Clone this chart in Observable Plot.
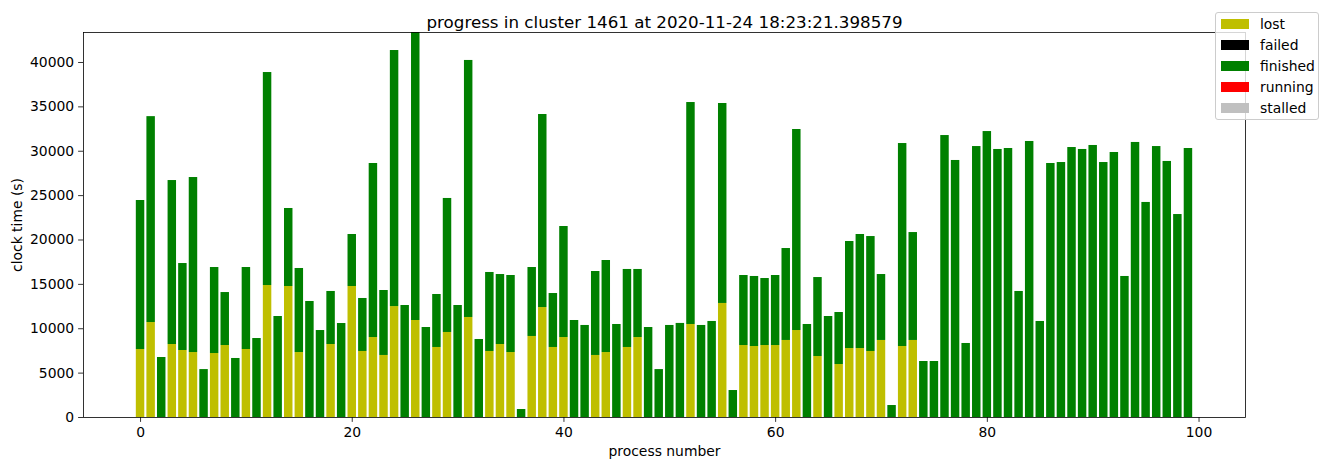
<!DOCTYPE html>
<html>
<head>
<meta charset="utf-8">
<script src="https://cdn.jsdelivr.net/npm/d3@7"></script>
<script src="https://cdn.jsdelivr.net/npm/@observablehq/plot@0.6"></script>
<style>
  body { margin: 0; background: #fff; font-family: "DejaVu Sans", sans-serif; }
  #wrap { position: relative; width: 1330px; height: 470px; }
  #legend { position: absolute; left: 1215px; top: 12px; width: 104px; height: 108px;
            border: 1px solid #cccccc; border-radius: 3px; background: rgba(255,255,255,0.8);
            box-sizing: border-box; }
  .row { position: absolute; left: 0; height: 14px; }
  .sw { position: absolute; left: 5px; width: 28px; height: 10px; }
  .lb { position: absolute; left: 44px; font-size: 13.9px; line-height: 14px; white-space: nowrap; color: #000; }
</style>
</head>
<body>
<div id="wrap"></div>
<script>
const titleText = "progress in cluster 1461 at 2020-11-24 18:23:21.398579";
const xLabel = "process number";
const yLabel = "clock time (s)";

const processes = d3.range(0, 100);
const lost = [7660,10700,0,8225,7550,7320,0,7210,8110,0,
  7660,0,14870,0,14760,7320,0,0,8225,0,
  14760,7440,9010,6990,12500,0,10930,0,7890,9580,
  0,11270,0,7440,8225,7320,0,9130,12390,7890,
  9010,0,0,6990,7320,0,7890,9010,0,0,
  0,0,10480,0,0,12850,0,8110,8000,8110,
  8110,8680,9800,0,6870,0,5970,7770,7770,7440,
  8680,0,8000,8680,0,0,0,0,0,0,
  0,0,0,0,0,0,0,0,0,0,
  0,0,0,0,0,0,0,0,0,0];
const total = [24450,33900,6760,26700,17350,27040,5400,16900,14080,6650,
  16900,8900,38870,11380,23550,16790,13070,9800,14200,10590,
  20620,13410,28620,14310,41350,12620,43380,10140,13860,24680,
  12620,40230,8790,16340,16110,16000,900,16900,34140,13970,
  21520,10930,10370,16450,17690,10480,16680,16680,10140,5400,
  10370,10600,35490,10370,10820,35380,3040,16000,15890,15660,
  16000,19040,32450,10480,15770,11380,11830,19830,20620,20390,
  16110,1350,30870,20840,6310,6310,31770,28960,8340,30530,
  32220,30200,30310,14200,31100,10820,28620,28730,30420,30200,
  30650,28730,29860,15890,30990,24230,30530,28850,22870,30310];

const xTicks = [0, 20, 40, 60, 80, 100];
const yTicks = [0, 5000, 10000, 15000, 20000, 25000, 30000, 35000, 40000];
const legendLabels = ["lost", "failed", "finished", "running", "stalled"];
const legendColors = ["#bfbf00", "#000000", "#008000", "#ff0000", "#c0c0c0"];

const rows = processes.map((p, i) => ({p, lost: lost[i], total: total[i]}));
const half = 0.4;

const chart = Plot.plot({
  width: 1330, height: 470,
  marginLeft: 83, marginRight: 85, marginTop: 32, marginBottom: 53,
  style: {fontFamily: "DejaVu Sans", fontSize: "13.9px", color: "#000", background: "#fff"},
  x: {domain: [-5.39, 104.39]},
  y: {domain: [0, 43380]},
  marks: [
    Plot.rect(rows, {x1: d => d.p - half, x2: d => d.p + half, y1: d => 0, y2: "lost", fill: legendColors[0], inset: 0}),
    Plot.rect(rows, {x1: d => d.p - half, x2: d => d.p + half, y1: "lost", y2: "total", fill: legendColors[2], inset: 0}),
    Plot.axisX({ticks: xTicks, tickSize: 4.9, tickPadding: 4.4, tickFormat: d => String(d), label: null, strokeWidth: 0.8}),
    Plot.axisY({ticks: yTicks, tickSize: 4.9, tickPadding: 4.4, tickFormat: d => String(d), label: null, strokeWidth: 0.8}),
    Plot.frame({stroke: "#000", strokeWidth: 0.8}),
    Plot.text([titleText], {frameAnchor: "top", dy: -5, lineAnchor: "bottom", textAnchor: "middle", fontSize: 16.7, fill: "#000"}),
    Plot.text([xLabel], {frameAnchor: "bottom", dy: 29, lineAnchor: "top", textAnchor: "middle", fill: "#000"}),
    Plot.text([yLabel], {frameAnchor: "left", dx: -66, rotate: -90, lineAnchor: "middle", textAnchor: "middle", fill: "#000"})
  ]
});

const wrap = document.getElementById("wrap");
wrap.appendChild(chart);

const legend = document.createElement("div");
legend.id = "legend";
legendLabels.forEach((lab, i) => {
  const row = document.createElement("div");
  row.className = "row";
  row.style.top = (4 + i * 21) + "px";
  row.style.width = "100%";
  const sw = document.createElement("div");
  sw.className = "sw";
  sw.style.top = "2px";
  sw.style.background = legendColors[i];
  const lb = document.createElement("div");
  lb.className = "lb";
  lb.style.top = "0px";
  lb.textContent = lab;
  row.appendChild(sw);
  row.appendChild(lb);
  legend.appendChild(row);
});
wrap.appendChild(legend);
</script>
</body>
</html>
